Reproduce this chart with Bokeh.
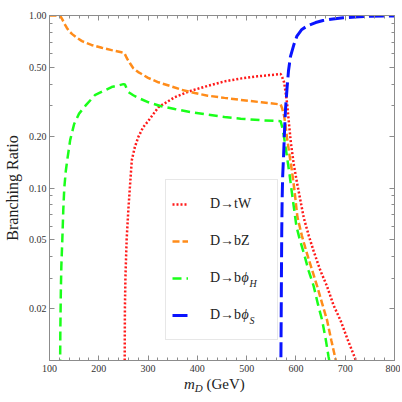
from bokeh.plotting import figure
from bokeh.layouts import column
from bokeh.models import (FixedTicker, LinearAxis, LogAxis, Range1d, Label, Legend,
                          LegendItem, CustomJSTickFormatter, Div)
from bokeh.embed import file_html
from bokeh.resources import INLINE

# ---------------- data ----------------
m_tW = [252.5, 253, 254, 256.5, 260, 263, 267, 273, 280, 290, 301, 321, 354, 388, 420, 455,
        490, 522, 550, 569, 572, 576, 579, 582, 586, 590, 596, 602, 609, 616, 626, 636, 650,
        663, 676, 690, 705, 720, 723]
br_tW = [0.009, 0.02, 0.03, 0.05, 0.075, 0.1, 0.145, 0.172, 0.197, 0.225, 0.246, 0.294, 0.336,
         0.367, 0.39, 0.415, 0.432, 0.444, 0.452, 0.458, 0.44, 0.41, 0.36, 0.31, 0.235, 0.18,
         0.135, 0.108, 0.085, 0.067, 0.053, 0.043, 0.033, 0.027, 0.021, 0.0172, 0.0132, 0.0103,
         0.0097]

m_bZ = [100, 120, 122, 124, 126, 130, 135, 140, 146, 155, 166, 185, 206, 226, 246, 252, 257,
        263, 270, 280, 287, 300, 321, 345, 368, 395, 421, 455, 488, 530, 569, 572, 576, 579,
        582, 587, 592, 597, 603, 612, 622, 632, 643, 653, 663, 672, 680, 684]
br_bZ = [1.0, 1.0, 0.99, 0.97, 0.95, 0.9, 0.85, 0.81, 0.78, 0.745, 0.71, 0.675, 0.65, 0.63,
         0.612, 0.605, 0.565, 0.53, 0.495, 0.47, 0.458, 0.435, 0.41, 0.39, 0.371, 0.355, 0.343,
         0.333, 0.324, 0.314, 0.305, 0.29, 0.262, 0.23, 0.195, 0.155, 0.125, 0.097, 0.068,
         0.053, 0.042, 0.034, 0.027, 0.0215, 0.0172, 0.013, 0.0103, 0.009]

m_bH = [121.5, 122, 123, 124, 126, 128, 130, 133, 136, 142, 150, 160, 173, 192, 207, 226, 240,
        250, 253, 257, 260, 270, 280, 301, 325, 354, 385, 421, 455, 488, 530, 569, 572, 575,
        578, 582, 587, 592, 597, 601, 608, 616, 626, 636, 645, 653, 660, 666, 669]
br_bH = [0.009, 0.015, 0.025, 0.035, 0.05, 0.075, 0.1, 0.125, 0.145, 0.19, 0.235, 0.27, 0.30,
         0.345, 0.362, 0.385, 0.393, 0.40, 0.398, 0.375, 0.36, 0.345, 0.333, 0.314, 0.299,
         0.287, 0.276, 0.266, 0.258, 0.252, 0.247, 0.244, 0.226, 0.205, 0.18, 0.151, 0.12,
         0.093, 0.073, 0.06, 0.05, 0.042, 0.033, 0.027, 0.021, 0.0172, 0.0135, 0.0106, 0.0095]

m_bS = [569.3, 569.7, 570.2, 570.7, 571.2, 572, 573, 575, 577, 579, 582, 585, 589, 596, 602,
        612, 623, 640, 655, 675, 696, 720, 750, 800]
br_bS = [0.008, 0.012, 0.02, 0.035, 0.055, 0.085, 0.115, 0.155, 0.22, 0.29, 0.38, 0.48, 0.58,
         0.68, 0.76, 0.83, 0.87, 0.91, 0.935, 0.955, 0.97, 0.98, 0.99, 0.995]

x_major = [100, 200, 300, 400, 500, 600, 700, 800]
x_minor = list(range(100, 801, 20))
y_major = [0.02, 0.05, 0.1, 0.2, 0.5, 1.0]
y_tick_labels = ["0.02", "0.05", "0.10", "0.20", "0.50", "1.00"]
y_minor = [0.01, 0.03, 0.04, 0.06, 0.07, 0.08, 0.09, 0.3, 0.4, 0.6, 0.7, 0.8, 0.9]

legend_labels = ["D\u2192tW", "D\u2192bZ", "D\u2192b", "D\u2192b"]
subscripts = ["H", "S"]

SERIF = "Liberation Serif"
AX = "#8c8c8c"
TXT = "#222222"

p = figure(width=400, height=376, x_range=Range1d(100, 800), y_range=Range1d(0.01, 1.0),
           y_axis_type="log", output_backend="svg", toolbar_location=None,
           min_border_left=47, min_border_right=6, min_border_top=15, min_border_bottom=16)
p.xgrid.visible = False
p.ygrid.visible = False
p.outline_line_color = None
p.background_fill_color = "white"
p.border_fill_color = "white"
p.margin = (0, 0, 0, 0)

xt = FixedTicker(ticks=x_major, minor_ticks=x_minor)
yt = FixedTicker(ticks=y_major, minor_ticks=y_minor)
yfmt = CustomJSTickFormatter(args=dict(tvals=y_major, tlabels=y_tick_labels), code="""
let best = 0, bd = Infinity;
for (let i = 0; i < tvals.length; i++) {
  const d = Math.abs(Math.log(tvals[i]) - Math.log(tick));
  if (d < bd) { bd = d; best = i; }
}
return tlabels[best];
""")
blank = CustomJSTickFormatter(code="return ''")


def style(ax):
    ax.axis_line_color = AX
    ax.axis_line_width = 1
    ax.major_tick_line_color = AX
    ax.minor_tick_line_color = AX
    ax.major_tick_in = 5
    ax.major_tick_out = 0
    ax.minor_tick_in = 3
    ax.minor_tick_out = 0
    ax.major_label_text_font = SERIF
    ax.major_label_text_font_size = "10px"
    ax.major_label_text_color = "#333333"


xa = p.xaxis[0]
xa.ticker = xt
style(xa)
xa.major_label_standoff = 4

ya = p.yaxis[0]
ya.ticker = yt
ya.formatter = yfmt
style(ya)
ya.major_label_standoff = 3
ya.axis_label = "Branching Ratio"
ya.axis_label_text_font = SERIF
ya.axis_label_text_font_style = "normal"
ya.axis_label_text_font_size = "16px"
ya.axis_label_text_color = TXT
ya.axis_label_standoff = 5

top = LinearAxis(ticker=xt, formatter=blank)
style(top)
top.major_label_text_font_size = "1px"
top.major_label_standoff = 0
p.add_layout(top, "above")

right = LogAxis(ticker=yt, formatter=blank)
style(right)
right.major_label_text_font_size = "1px"
right.major_label_standoff = 0
p.add_layout(right, "right")

r_tW = p.line(m_tW, br_tW, line_color="#ff1a1a", line_width=2.5, line_dash="2 2")
r_bZ = p.line(m_bZ, br_bZ, line_color="#ff8c1a", line_width=2.5, line_dash="7 3")
r_bH = p.line(m_bH, br_bH, line_color="#1aff1a", line_width=2.5, line_dash="9 5")
r_bS = p.line(m_bS, br_bS, line_color="#0a14ff", line_width=3, line_dash="15 5")

legend = Legend(items=[LegendItem(label=legend_labels[0], renderers=[r_tW]),
                       LegendItem(label=legend_labels[1], renderers=[r_bZ]),
                       LegendItem(label=legend_labels[2], renderers=[r_bH]),
                       LegendItem(label=legend_labels[3], renderers=[r_bS])],
                location=(116, 20))
legend.label_text_font = SERIF
legend.label_text_font_size = "14px"
legend.label_text_color = TXT
legend.glyph_width = 16
legend.glyph_height = 36
legend.label_height = 36
legend.spacing = 1
legend.padding = 6
legend.margin = 0
legend.label_standoff = 22
legend.label_width = 61
legend.border_line_color = "#cfcfcf"
legend.border_line_width = 1
legend.background_fill_alpha = 0
p.add_layout(legend)

# italic phi and subscripts in the legend (frame-relative screen units)
for yc, sub in zip([83, 46], subscripts):
    p.add_layout(Label(x=192, y=yc, x_units="screen", y_units="screen", text="\u03d5",
                       text_font=SERIF, text_font_style="italic", text_font_size="14px",
                       text_color=TXT, text_baseline="middle", text_align="left",
                       level="overlay"))
    p.add_layout(Label(x=200, y=yc - 6, x_units="screen", y_units="screen", text=sub,
                       text_font=SERIF, text_font_style="italic", text_font_size="10px",
                       text_color=TXT, text_baseline="middle", text_align="left",
                       level="overlay"))

# x axis label: m_D (GeV), as real HTML text under the plot
xlabel = Div(text=('<div style="position:relative; top:0px; margin-left:184px; '
                   'font-family:\'Liberation Serif\'; font-size:15px; color:#222222; '
                   'white-space:nowrap; line-height:17px;">'
                   '<i>m</i><sub style="font-size:11px; vertical-align:-3px;"><i>D</i></sub>'
                   '&nbsp;(GeV)</div>'),
             width=400, height=24, margin=(0, 0, 0, 0))

layout = column(p, xlabel, spacing=0)
open("out.html", "w").write(file_html(layout, INLINE))
